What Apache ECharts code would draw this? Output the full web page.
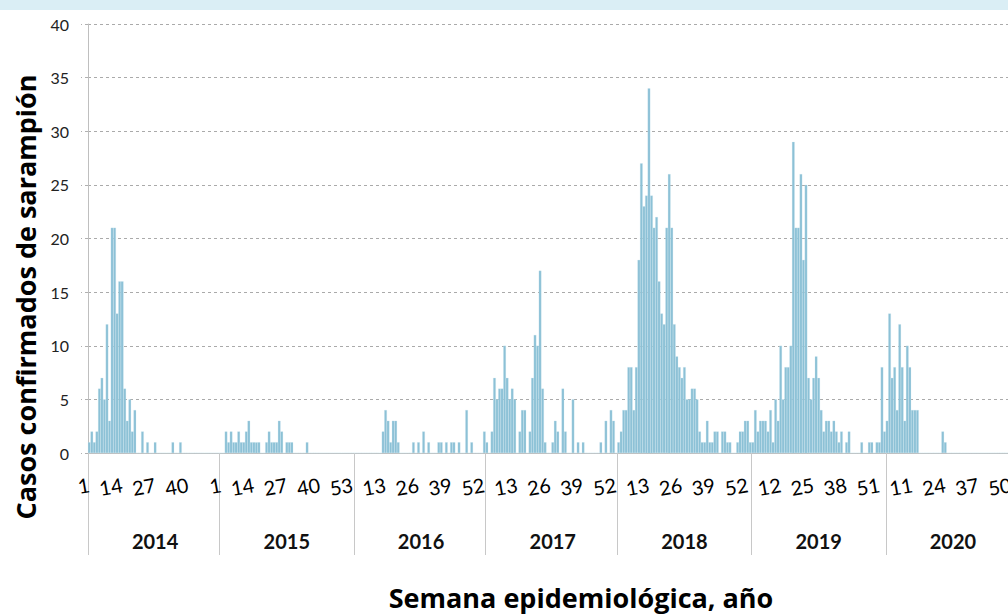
<!DOCTYPE html>
<html>
<head>
<meta charset="utf-8">
<script src="https://cdn.jsdelivr.net/npm/echarts@6/dist/echarts.min.js"></script>
<style>
html, body { margin: 0; padding: 0; overflow: hidden; background: #fff; }
#chart { width: 1020px; height: 615px; }
</style>
</head>
<body>
<div id="chart"></div>
<script>
// casos confirmados de sarampión por semana epidemiológica
var years = ['2014', '2015', '2016', '2017', '2018', '2019', '2020'];
var weeksPerYear = [52, 53, 52, 52, 53, 53, 53];

var cases2014 = [1,2,1,2,6,7,5,12,3,21,21,13,16,16,6,3,5,2,4, 0,0,2,0,1,0,0,1, 0,0,0,0,0,0,1,0,0,1,
  0,0,0,0,0,0,0,0,0,0,0,0,0,0,0];
var cases2015 = [0,0,2,1,2,1,1,2,1,1,2,3,1,1,1,1, 0,0, 1,2,1,1,1,3,2, 0, 1,1,1, 0,0,0,0,0, 1,
  0,0,0,0,0,0,0,0,0,0,0,0,0,0,0,0,0,0];
var cases2016 = [0,0,0,0,0,0,0,0,0,0,0, 2,4,3,1,3,3,1, 0,0,0,0,0,
  1,0,1,0,2,0,1,0,0,0,1,1,0,1,0,1,1,0,1,0,0,4,0,1,0,0,0,0,2];
var cases2017 = [1,0,2,7,5,6,6,10,7,5, 6,5,0,2,4,4,0,2,7,11, 10,17,6,1,0,0,1,3,2,0,
  6,2,0,0,5,0,1,0,1,0, 0,0,0,0,0,1,0,3,0,4, 3,0];
var cases2018 = [1,2,4,4,8,8,4,8,18,27, 23,24,34,24,21,22,16,13,12,21, 26,21,12,9,8,7,8,5,5,6,
  6,5,2,1,1,3,1,1,2,2, 0,2,2,1,1,0,0,1,2,2, 3,3,1];
var cases2019 = [1,4,2,3,3,3,2,4,1,5, 3,10,5,8,8,10,29,21,21,26, 18,25,7,5,7,9,7,4,2,3,
  3,2,3,2,1,2,0,1,2,0, 0,0,0,1,0,0,1,1,0,1, 1,8,2];
var cases2020 = [3,13,7,8,4,12,8,3,10,8, 4,4,4,0,0,0,0,0,0,0, 0,0,2,1,
  0,0,0,0,0,0,0,0,0,0,0,0,0,0,0,0,0,0,0,0,0,0,0,0,0,0,0,0,0];

var casesByYear = [cases2014, cases2015, cases2016, cases2017, cases2018, cases2019, cases2020];

// una categoría por semana: "año-semana"
var categories = [];
var values = [];
var yearStart = {};
var yearMiddle = {};
years.forEach(function (y, i) {
  yearStart[categories.length] = true;
  yearMiddle[categories.length + Math.floor(weeksPerYear[i] / 2)] = true;
  for (var w = 1; w <= weeksPerYear[i]; w++) {
    categories.push(y + '-' + w);
    values.push(casesByYear[i][w - 1]);
  }
});

var chart = echarts.init(document.getElementById('chart'), null, { renderer: 'svg' });

chart.setOption({
  animation: false,
  title: {
    text: 'Semana epidemiológica, año',
    left: 581,
    top: 584,
    textAlign: 'center',
    padding: 0,
    textStyle: { fontFamily: 'Open Sans', fontWeight: 'bold', fontSize: 27, color: '#000' }
  },
  graphic: [
    { type: 'rect', left: 0, top: 0, shape: { width: 1020, height: 10 }, style: { fill: '#DAEEF5' } },
    {
      type: 'text', x: 25, y: 297, rotation: Math.PI / 2,
      style: {
        text: 'Casos confirmados de sarampión',
        align: 'center', verticalAlign: 'middle',
        fontFamily: 'Open Sans', fontWeight: 'bold', fontSize: 27, fill: '#000'
      }
    }
  ],
  grid: { left: 88, right: 0, top: 24, bottom: 162 },
  xAxis: [{
    type: 'category',
    data: categories,
    axisLine: { lineStyle: { color: '#BFBFBF' } },
    axisTick: {
      show: true,
      length: 102,
      interval: function (idx) { return !!yearStart[idx]; },
      lineStyle: { color: '#C8C8C8' }
    },
    axisLabel: {
      interval: 12,
      rotate: 10,
      margin: 31,
      fontFamily: 'Lato',
      fontSize: 20,
      color: '#000',
      formatter: function (v) { return v.split('-')[1]; }
    }
  }, {
    type: 'category',
    data: categories,
    position: 'bottom',
    offset: 70,
    axisLine: { show: false },
    axisTick: { show: false },
    axisLabel: {
      interval: function (idx) { return !!yearMiddle[idx]; },
      fontFamily: 'Lato',
      fontWeight: 'bold',
      fontSize: 20,
      color: '#111',
      formatter: function (v) { return v.split('-')[0]; }
    }
  }],
  yAxis: {
    type: 'value',
    min: 0,
    max: 40,
    interval: 5,
    axisLine: { show: true, lineStyle: { color: '#BFBFBF' } },
    axisTick: { show: true, length: 7, lineStyle: { color: '#B0B0B0', type: [3, 3] } },
    axisLabel: { margin: 19, fontFamily: 'Lato', fontSize: 16, color: '#222' },
    splitLine: { lineStyle: { color: '#AAAAAA', type: [3, 3] } }
  },
  series: [{
    type: 'bar',
    data: values,
    barCategoryGap: '0%',
    itemStyle: { color: '#8CC1D6', borderColor: '#C8E4EF', borderWidth: 0.25 }
  }]
});
</script>
</body>
</html>
